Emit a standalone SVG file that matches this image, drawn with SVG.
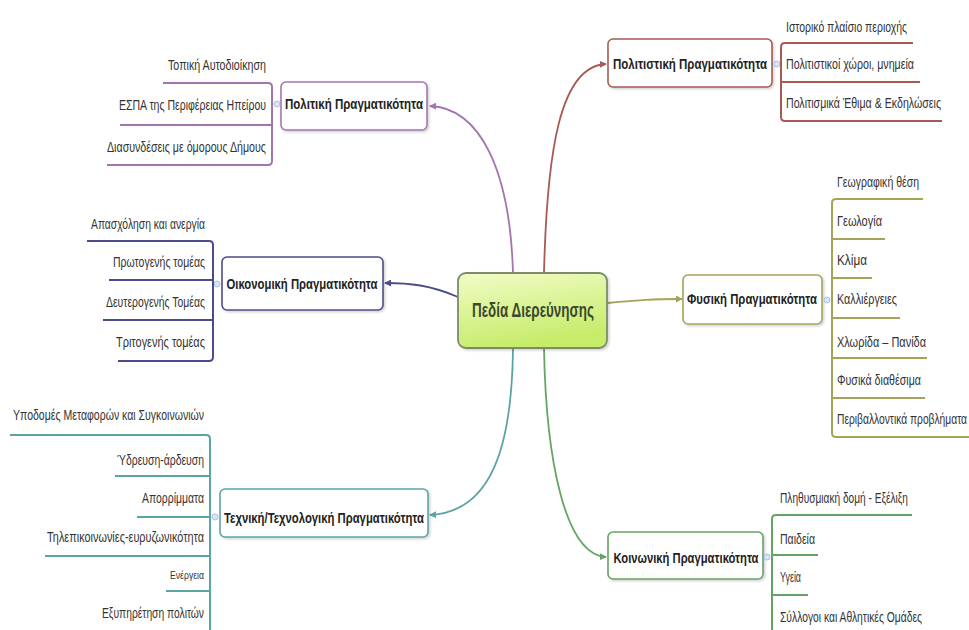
<svg xmlns="http://www.w3.org/2000/svg" width="969" height="630" viewBox="0 0 969 630">
<style>
.t{font-family:"Liberation Sans",Arial,sans-serif;font-size:14px;fill:#333}
.h{font-family:"Liberation Sans",Arial,sans-serif;font-size:15px;font-weight:bold;fill:#222;text-anchor:middle}
.c{font-family:"Liberation Sans",Arial,sans-serif;font-size:20px;font-weight:bold;fill:#3c4a2c;text-anchor:middle}
.e{text-anchor:end}
.box{fill:#fff;stroke-width:1.6;filter:url(#sh)}
.ln{fill:none;stroke-width:2}
.cn{fill:none;stroke-width:1.8}
.dot{fill:#d8e6f4;stroke:#a8c4e0;stroke-width:1}
</style>
<defs>
<filter id="sh" x="-10%" y="-10%" width="125%" height="130%">
<feDropShadow dx="1.5" dy="1.5" stdDeviation="1.2" flood-color="#000" flood-opacity="0.18"/>
</filter>
<linearGradient id="cg" x1="0" y1="0" x2="0.3" y2="1">
<stop offset="0" stop-color="#f2fcc8"/>
<stop offset="1" stop-color="#c6ec6a"/>
</linearGradient>
<marker id="ap" viewBox="0 0 8 8" refX="7" refY="4" markerWidth="7" markerHeight="7" orient="auto" markerUnits="userSpaceOnUse"><path d="M0,0 L8,4 L0,8 Z" fill="#a274b0"/></marker>
<marker id="ar" viewBox="0 0 8 8" refX="7" refY="4" markerWidth="7" markerHeight="7" orient="auto" markerUnits="userSpaceOnUse"><path d="M0,0 L8,4 L0,8 Z" fill="#a85a55"/></marker>
<marker id="ao" viewBox="0 0 8 8" refX="7" refY="4" markerWidth="7" markerHeight="7" orient="auto" markerUnits="userSpaceOnUse"><path d="M0,0 L8,4 L0,8 Z" fill="#a4a458"/></marker>
<marker id="an" viewBox="0 0 8 8" refX="7" refY="4" markerWidth="7" markerHeight="7" orient="auto" markerUnits="userSpaceOnUse"><path d="M0,0 L8,4 L0,8 Z" fill="#4c4c8c"/></marker>
<marker id="at" viewBox="0 0 8 8" refX="7" refY="4" markerWidth="7" markerHeight="7" orient="auto" markerUnits="userSpaceOnUse"><path d="M0,0 L8,4 L0,8 Z" fill="#5ca4a4"/></marker>
<marker id="ag" viewBox="0 0 8 8" refX="7" refY="4" markerWidth="7" markerHeight="7" orient="auto" markerUnits="userSpaceOnUse"><path d="M0,0 L8,4 L0,8 Z" fill="#64a464"/></marker>
</defs>
<rect width="969" height="630" fill="#fff"/>

<g id="connectors">
<path class="cn" stroke="#a274b0" d="M513,273 C510,170 480,108 430,106" marker-end="url(#ap)"/>
<path class="cn" stroke="#a85a55" d="M544,273 C547,150 560,66 606,64" marker-end="url(#ar)"/>
<path class="cn" stroke="#a4a458" d="M607,303 C640,300 650,299 682,299" marker-end="url(#ao)"/>
<path class="cn" stroke="#4c4c8c" d="M458,297 C430,285 410,283 385,283" marker-end="url(#an)"/>
<path class="cn" stroke="#5ca4a4" d="M513,348 C512,450 490,512 430,515" marker-end="url(#at)"/>
<path class="cn" stroke="#64a464" d="M544,348 C546,460 565,555 606,557" marker-end="url(#ag)"/>
</g>

<g id="center">
<rect x="458" y="273" width="149" height="75" rx="8" fill="url(#cg)" stroke="#7e8a6c" stroke-width="1.8" filter="url(#sh)"/>
<text class="c" x="533" y="317" textLength="122" lengthAdjust="spacingAndGlyphs">Πεδία Διερεύνησης</text>
</g>

<g id="politiki">
<rect class="box" x="281" y="82" width="146" height="48" rx="5" stroke="#a274b0"/>
<text class="h" x="354" y="109" textLength="138" lengthAdjust="spacingAndGlyphs">Πολιτική Πραγματικότητα</text>
<circle class="dot" cx="277" cy="104" r="3"/>
<path class="ln" stroke="#a274b0" d="M163,83 H268 Q272,83 272,87 V161 Q272,165 268,165 H107 M120,125 H272"/>
<text class="t e" x="266" y="70" textLength="98" lengthAdjust="spacingAndGlyphs">Τοπική Αυτοδιοίκηση</text>
<text class="t e" x="266" y="110" textLength="147" lengthAdjust="spacingAndGlyphs">ΕΣΠΑ της Περιφέρειας Ηπείρου</text>
<text class="t e" x="266" y="152" textLength="159" lengthAdjust="spacingAndGlyphs">Διασυνδέσεις με όμορους Δήμους</text>
</g>

<g id="politistiki">
<rect class="box" x="608" y="39" width="164" height="48" rx="5" stroke="#a85a55"/>
<text class="h" x="690" y="69" textLength="154" lengthAdjust="spacingAndGlyphs">Πολιτιστική Πραγματικότητα</text>
<circle class="dot" cx="777" cy="64" r="3"/>
<path class="ln" stroke="#a85a55" d="M913,43 H785 Q781,43 781,47 V117 Q781,121 785,121 H942 M781,82 H920"/>
<text class="t" x="786" y="32" textLength="121" lengthAdjust="spacingAndGlyphs">Ιστορικό πλαίσιο περιοχής</text>
<text class="t" x="786" y="69" textLength="128" lengthAdjust="spacingAndGlyphs">Πολιτιστικοί χώροι, μνημεία</text>
<text class="t" x="786" y="108" textLength="155" lengthAdjust="spacingAndGlyphs">Πολιτισμικά Έθιμα &amp; Εκδηλώσεις</text>
</g>

<g id="fysiki">
<rect class="box" x="683" y="275" width="139" height="49" rx="5" stroke="#a4a458"/>
<text class="h" x="752" y="304" textLength="130" lengthAdjust="spacingAndGlyphs">Φυσική Πραγματικότητα</text>
<circle class="dot" cx="827" cy="300" r="3"/>
<path class="ln" stroke="#a4a458" d="M923,199 H836 Q832,199 832,203 V433 Q832,437 836,437 H969 M832,239 H885 M832,278 H872 M832,318 H900 M832,358 H927 M832,398 H925"/>
<text class="t" x="837" y="187" textLength="82" lengthAdjust="spacingAndGlyphs">Γεωγραφική θέση</text>
<text class="t" x="837" y="226" textLength="45" lengthAdjust="spacingAndGlyphs">Γεωλογία</text>
<text class="t" x="837" y="265" textLength="30" lengthAdjust="spacingAndGlyphs">Κλίμα</text>
<text class="t" x="837" y="304" textLength="60" lengthAdjust="spacingAndGlyphs">Καλλιέργειες</text>
<text class="t" x="837" y="347" textLength="89" lengthAdjust="spacingAndGlyphs">Χλωρίδα – Πανίδα</text>
<text class="t" x="837" y="385" textLength="84" lengthAdjust="spacingAndGlyphs">Φυσικά διαθέσιμα</text>
<text class="t" x="837" y="424" textLength="130" lengthAdjust="spacingAndGlyphs">Περιβαλλοντικά προβλήματα</text>
</g>

<g id="oikonomiki">
<rect class="box" x="222" y="257" width="161" height="53" rx="5" stroke="#4c4c8c"/>
<text class="h" x="302" y="289" textLength="151" lengthAdjust="spacingAndGlyphs">Οικονομική Πραγματικότητα</text>
<circle class="dot" cx="217" cy="284" r="3"/>
<path class="ln" stroke="#4c4c8c" d="M87,241 H209 Q213,241 213,245 V357 Q213,361 209,361 H118 M109,280 H213 M103,320 H213"/>
<text class="t e" x="205" y="229" textLength="114" lengthAdjust="spacingAndGlyphs">Απασχόληση και ανεργία</text>
<text class="t e" x="205" y="267" textLength="92" lengthAdjust="spacingAndGlyphs">Πρωτογενής τομέας</text>
<text class="t e" x="205" y="307" textLength="99" lengthAdjust="spacingAndGlyphs">Δευτερογενής Τομέας</text>
<text class="t e" x="205" y="347" textLength="89" lengthAdjust="spacingAndGlyphs">Τριτογενής τομέας</text>
</g>

<g id="texniki">
<rect class="box" x="220" y="489" width="208" height="48" rx="5" stroke="#5ca4a4"/>
<text class="h" x="324" y="523" textLength="200" lengthAdjust="spacingAndGlyphs">Τεχνική/Τεχνολογική Πραγματικότητα</text>
<circle class="dot" cx="215" cy="517" r="3"/>
<path class="ln" stroke="#5ca4a4" d="M10,435 H206 Q210,435 210,439 V632 M115,476 H210 M137,517 H210 M45,556 H210 M166,591 H210"/>
<text class="t e" x="204" y="420" textLength="191" lengthAdjust="spacingAndGlyphs">Υποδομές Μεταφορών και Συγκοινωνιών</text>
<text class="t e" x="204" y="465" textLength="87" lengthAdjust="spacingAndGlyphs">Ύδρευση-άρδευση</text>
<text class="t e" x="204" y="503" textLength="62" lengthAdjust="spacingAndGlyphs">Απορρίμματα</text>
<text class="t e" x="204" y="542" textLength="157" lengthAdjust="spacingAndGlyphs">Τηλεπικοινωνίες-ευρυζωνικότητα</text>
<text class="t e" x="204" y="579" textLength="34" lengthAdjust="spacingAndGlyphs" style="font-size:10px">Ενέργεια</text>
<text class="t e" x="204" y="618" textLength="102" lengthAdjust="spacingAndGlyphs">Εξυπηρέτηση πολιτών</text>
</g>

<g id="koinoniki">
<rect class="box" x="608" y="532" width="155" height="47" rx="5" stroke="#64a464"/>
<text class="h" x="686" y="563" textLength="145" lengthAdjust="spacingAndGlyphs">Κοινωνική Πραγματικότητα</text>
<circle class="dot" cx="767" cy="557" r="3"/>
<path class="ln" stroke="#64a464" d="M912,515 H776 Q772,515 772,519 V632 M772,555 H818 M772,595 H808"/>
<text class="t" x="780" y="503" textLength="128" lengthAdjust="spacingAndGlyphs">Πληθυσμιακή δομή - Εξέλιξη</text>
<text class="t" x="780" y="544" textLength="35" lengthAdjust="spacingAndGlyphs">Παιδεία</text>
<text class="t" x="780" y="582" textLength="21" lengthAdjust="spacingAndGlyphs">Υγεία</text>
<text class="t" x="780" y="622" textLength="142" lengthAdjust="spacingAndGlyphs">Σύλλογοι και Αθλητικές Ομάδες</text>
</g>
</svg>
